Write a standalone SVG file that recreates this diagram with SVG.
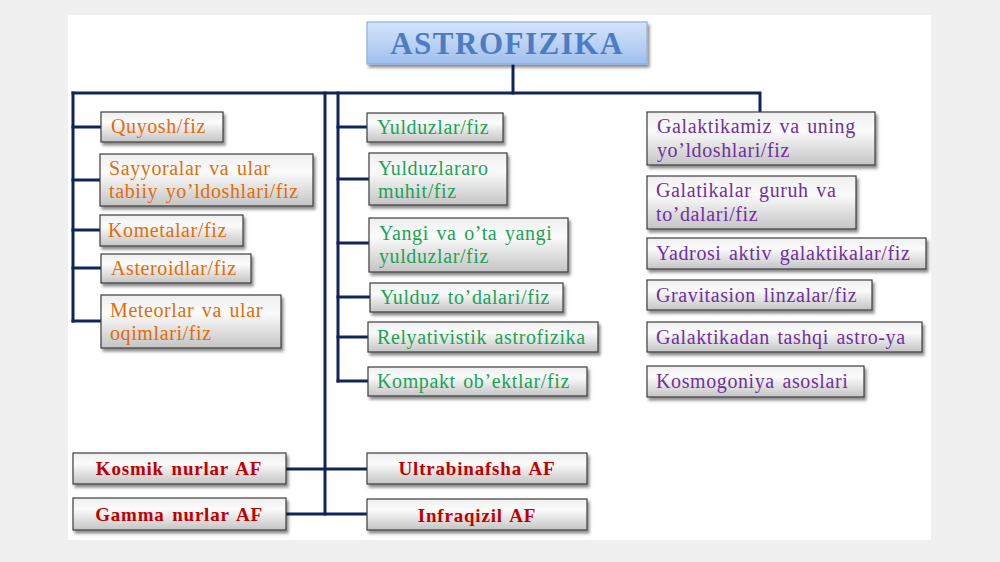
<svg xmlns="http://www.w3.org/2000/svg" width="1000" height="562" viewBox="0 0 1000 562">
<defs>
<linearGradient id="gbox" x1="0" y1="0" x2="0" y2="1">
<stop offset="0" stop-color="#efefef"/>
<stop offset="0.35" stop-color="#fbfbfb"/>
<stop offset="1" stop-color="#c4c4c4"/>
</linearGradient>
<linearGradient id="gtitle" x1="0" y1="0" x2="0" y2="1">
<stop offset="0" stop-color="#d3e3f9"/>
<stop offset="0.5" stop-color="#bcd3f4"/>
<stop offset="1" stop-color="#9ebfee"/>
</linearGradient>
<filter id="sh" x="-10%" y="-20%" width="125%" height="150%">
<feDropShadow dx="2" dy="3" stdDeviation="1.6" flood-color="#000" flood-opacity="0.45"/>
</filter>
</defs>
<style>
.box{fill:url(#gbox);stroke:#3c3c3c;stroke-width:1.2;filter:url(#sh)}
.title{fill:url(#gtitle);stroke:#8fb0df;stroke-width:1.2;filter:url(#sh)}
.t{font-family:"Liberation Serif","Times New Roman",serif;font-size:20px;letter-spacing:0.6px;word-spacing:2px}
.o{fill:#e36c0a}
.g{fill:#1aa356}
.p{fill:#7030a0}
.r{fill:#c00000;font-weight:bold;font-size:19px;letter-spacing:0.8px;word-spacing:2px}
.tt{font-family:"Liberation Serif","Times New Roman",serif;font-size:31px;font-weight:bold;fill:#4d7cc3;letter-spacing:1.5px}
.ln{stroke:#0f2559;stroke-width:3;fill:none;stroke-linecap:square}
</style>
<rect x="0" y="0" width="1000" height="562" fill="#f0f0f0"/>
<rect x="68" y="15" width="863" height="525" fill="#ffffff"/>

<g id="connectors">
<path class="ln" d="M513 64 V93"/>
<path class="ln" d="M73 93 H760 V112"/>
<path class="ln" d="M73 93 V321"/>
<path class="ln" d="M73 127 H101 M73 180 H100 M73 230 H100 M73 268 H101 M73 321 H101"/>
<path class="ln" d="M325 93 V514"/>
<path class="ln" d="M338 93 V381"/>
<path class="ln" d="M338 127 H367 M338 179 H369 M338 243 H369 M338 297 H370 M338 337 H368 M338 381 H368"/>
<path class="ln" d="M286 469 H367 M286 514 H367"/>
</g>

<g id="n-title"><rect class="title" x="367" y="22" width="280" height="42"/><text class="tt" x="507" y="54" text-anchor="middle">ASTROFIZIKA</text></g>

<g id="n-quyosh"><rect class="box" x="101" y="112" width="122" height="30"/><text class="t o" x="111" y="133">Quyosh/fiz</text></g>
<g id="n-sayyoralar"><rect class="box" x="100" y="154" width="213" height="52"/><text class="t o" x="109" y="175">Sayyoralar va ular</text><text class="t o" x="109" y="198">tabiiy yo’ldoshlari/fiz</text></g>
<g id="n-kometalar"><rect class="box" x="100" y="215" width="143" height="31"/><text class="t o" x="108" y="237">Kometalar/fiz</text></g>
<g id="n-asteroidlar"><rect class="box" x="101" y="254" width="150" height="29"/><text class="t o" x="111" y="275">Asteroidlar/fiz</text></g>
<g id="n-meteorlar"><rect class="box" x="101" y="295" width="180" height="53"/><text class="t o" x="110" y="317">Meteorlar va ular</text><text class="t o" x="110" y="340">oqimlari/fiz</text></g>

<g id="n-yulduzlar"><rect class="box" x="367" y="113" width="136" height="29"/><text class="t g" x="377" y="134">Yulduzlar/fiz</text></g>
<g id="n-yulduzlararo"><rect class="box" x="369" y="153" width="138" height="52"/><text class="t g" x="378" y="175">Yulduzlararo</text><text class="t g" x="378" y="198">muhit/fiz</text></g>
<g id="n-yangi"><rect class="box" x="369" y="218" width="199" height="54"/><text class="t g" x="379" y="240">Yangi va o’ta yangi</text><text class="t g" x="379" y="263">yulduzlar/fiz</text></g>
<g id="n-todalari"><rect class="box" x="370" y="283" width="193" height="29"/><text class="t g" x="380" y="304">Yulduz to’dalari/fiz</text></g>
<g id="n-relyativistik"><rect class="box" x="368" y="322" width="230" height="30"/><text class="t g" x="377" y="344">Relyativistik astrofizika</text></g>
<g id="n-kompakt"><rect class="box" x="368" y="367" width="219" height="29"/><text class="t g" x="377" y="388">Kompakt ob’ektlar/fiz</text></g>

<g id="n-galaktikamiz"><rect class="box" x="647" y="112" width="228" height="53"/><text class="t p" x="657" y="133">Galaktikamiz va uning</text><text class="t p" x="657" y="157">yo’ldoshlari/fiz</text></g>
<g id="n-galatikalar"><rect class="box" x="647" y="176" width="209" height="53"/><text class="t p" x="656" y="197">Galatikalar guruh va</text><text class="t p" x="656" y="221">to’dalari/fiz</text></g>
<g id="n-yadrosi"><rect class="box" x="647" y="238" width="279" height="31"/><text class="t p" x="656" y="260">Yadrosi aktiv galaktikalar/fiz</text></g>
<g id="n-gravitasion"><rect class="box" x="647" y="280" width="225" height="30"/><text class="t p" x="656" y="302">Gravitasion linzalar/fiz</text></g>
<g id="n-galaktikadan"><rect class="box" x="647" y="322" width="275" height="30"/><text class="t p" x="656" y="344">Galaktikadan tashqi astro-ya</text></g>
<g id="n-kosmogoniya"><rect class="box" x="647" y="366" width="217" height="31"/><text class="t p" x="656" y="388">Kosmogoniya asoslari</text></g>

<g id="n-kosmik"><rect class="box" x="73" y="453" width="213" height="31"/><text class="t r" x="179" y="475" text-anchor="middle">Kosmik nurlar AF</text></g>
<g id="n-gamma"><rect class="box" x="73" y="498" width="213" height="32"/><text class="t r" x="179" y="521" text-anchor="middle">Gamma  nurlar AF</text></g>
<g id="n-ultrabinafsha"><rect class="box" x="367" y="453" width="220" height="31"/><text class="t r" x="477" y="475" text-anchor="middle">Ultrabinafsha AF</text></g>
<g id="n-infraqizil"><rect class="box" x="367" y="499" width="220" height="31"/><text class="t r" x="477" y="522" text-anchor="middle">Infraqizil AF</text></g>
</svg>
